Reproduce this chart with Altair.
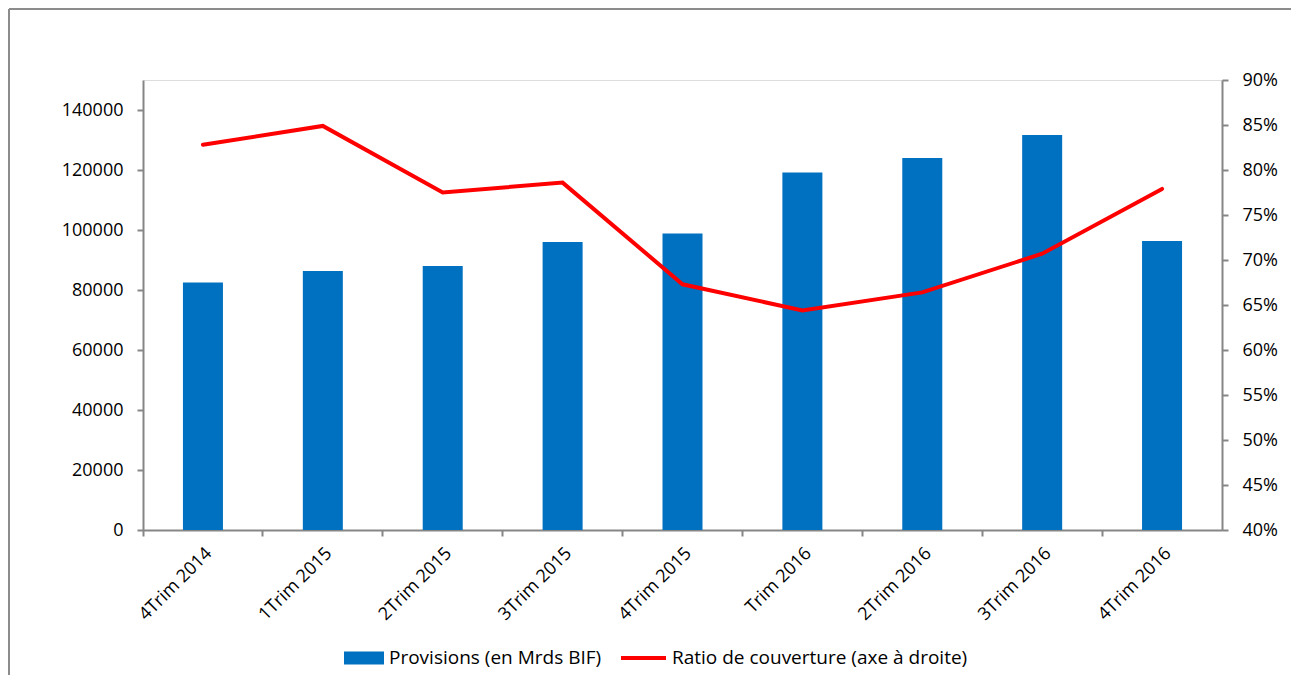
import altair as alt
import pandas as pd

categories = ["4Trim 2014", "1Trim 2015", "2Trim 2015", "3Trim 2015", "4Trim 2015",
              "Trim 2016", "2Trim 2016", "3Trim 2016", "4Trim 2016"]
provisions = [82500, 86300, 88000, 96000, 98800, 119200, 124000, 131700, 96300]
ratio = [0.828, 0.849, 0.775, 0.786, 0.673, 0.644, 0.664, 0.707, 0.779]
left_ticks = [0, 20000, 40000, 60000, 80000, 100000, 120000, 140000]
right_ticks = [0.40, 0.45, 0.50, 0.55, 0.60, 0.65, 0.70, 0.75, 0.80, 0.85, 0.90]

bar_name = "Provisions (en Mrds BIF)"
line_name = "Ratio de couverture (axe à droite)"

df = pd.DataFrame({"cat": categories, "prov": provisions, "ratio": ratio})

FONT = "Open Sans"
GRAY = "#868686"
AX_FS = 18
LG_FS = 19

x_enc = alt.X(
    "cat:N", sort=categories, title=None,
    scale=alt.Scale(paddingInner=0, paddingOuter=0),
    axis=alt.Axis(labelAngle=-45, labelAlign="right", labelBaseline="top",
                  labelFontSize=AX_FS, labelFont=FONT, labelColor="#000000",
                  domainColor=GRAY, domainWidth=2, tickColor=GRAY, tickWidth=2,
                  tickSize=6, bandPosition=0, labelPadding=8),
)

bars = alt.Chart(df).mark_bar(size=40).encode(
    x=x_enc,
    y=alt.Y("prov:Q", title=None,
            scale=alt.Scale(domain=[0, 150000], nice=False, zero=True),
            axis=alt.Axis(values=left_ticks, grid=False, orient="left",
                          labelFontSize=AX_FS, labelFont=FONT, labelColor="#000000",
                          domainColor=GRAY, domainWidth=2, tickColor=GRAY, tickWidth=2,
                          tickSize=6, labelPadding=14, format="d")),
    fill=alt.Fill("s:N", scale=alt.Scale(domain=[bar_name], range=["#0070C0"]),
                  legend=alt.Legend(title=None, orient="none", legendX=201, legendY=558,
                                    symbolType="M-1,-0.32H1V0.32H-1Z", symbolSize=1600,
                                    symbolStrokeWidth=0, labelFontSize=LG_FS, labelFont=FONT,
                                    labelColor="#000000", labelOffset=5, padding=0,
                                    labelLimit=0)),
).transform_calculate(s=f"'{bar_name}'")

line = alt.Chart(df).mark_line(strokeWidth=4, strokeCap="round").encode(
    x=alt.X("cat:N", sort=categories),
    y=alt.Y("ratio:Q", title=None,
            scale=alt.Scale(domain=[0.4, 0.9], nice=False, zero=False),
            axis=alt.Axis(values=right_ticks, grid=False, orient="right", format=".0%",
                          labelFontSize=AX_FS, labelFont=FONT, labelColor="#000000",
                          domainColor=GRAY, domainWidth=2, tickColor=GRAY, tickWidth=2,
                          tickSize=6, labelPadding=14)),
    stroke=alt.Stroke("s:N", scale=alt.Scale(domain=[line_name], range=["#FF0000"]),
                      legend=alt.Legend(title=None, orient="none", legendX=476, legendY=553.5,
                                        symbolType="stroke", symbolSize=2025,
                                        symbolStrokeWidth=4, labelFontSize=LG_FS, labelFont=FONT,
                                        labelColor="#000000", labelOffset=4, padding=0,
                                        labelLimit=0)),
).transform_calculate(s=f"'{line_name}'")

frame_df = pd.DataFrame({"a": [0]})
frame_left = alt.Chart(frame_df).mark_rule(color="#8c8c8c", strokeWidth=2).encode(
    x=alt.value(-134), y=alt.value(-71), y2=alt.value(600))
frame_top = alt.Chart(frame_df).mark_rule(color="#8c8c8c", strokeWidth=2).encode(
    x=alt.value(-134), x2=alt.value(1160), y=alt.value(-71))

chart = alt.layer(bars, line, frame_left, frame_top).resolve_scale(
    y="independent", fill="independent", stroke="independent"
).properties(
    width=1079, height=450,
    autosize=alt.AutoSizeParams(type="none"),
    padding={"left": 143, "top": 80, "right": 69, "bottom": 145},
).configure_view(stroke=None).configure(background="#ffffff")

chart.save("out.html", embed_options={"renderer": "svg", "actions": False})
